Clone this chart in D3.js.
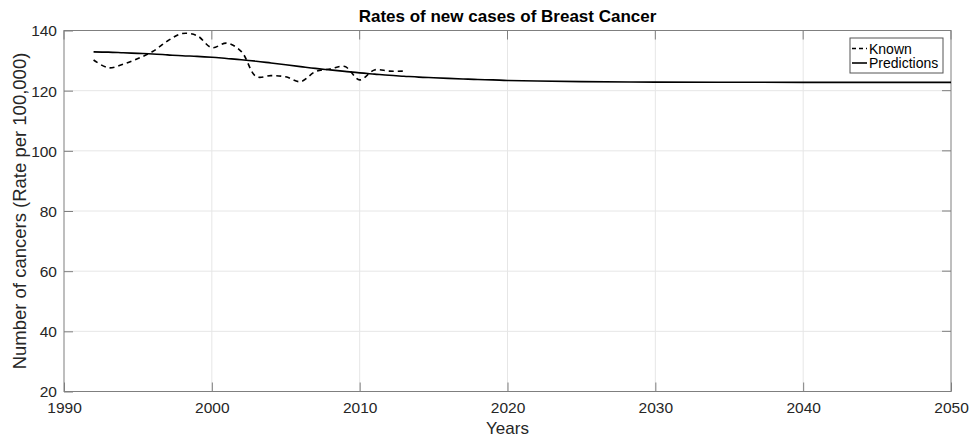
<!DOCTYPE html>
<html>
<head>
<meta charset="utf-8">
<script src="https://cdn.jsdelivr.net/npm/d3@7"></script>
<style>
  html, body { margin: 0; padding: 0; background: #fff; }
  svg { display: block; font-family: "Liberation Sans", Arial, Helvetica, sans-serif; }
</style>
</head>
<body>
<svg id="chart" width="971" height="439"></svg>
<script>
// Observed incidence (rate per 100,000)
const knownYears = [1992, 1993, 1994, 1995, 1996, 1997, 1998, 1999, 2000, 2001, 2002,
                    2003, 2004, 2005, 2006, 2007, 2008, 2009, 2010, 2011, 2012, 2013];
const knownRates = [130.2, 127.6, 128.8, 130.7, 133.0, 136.5, 139.0, 138.3, 134.3, 135.8, 133.0,
                    124.7, 125.0, 124.6, 123.0, 126.3, 127.2, 128.0, 123.6, 126.9, 126.5, 126.5];

// Model predictions
const predYears = [1992, 1993, 1994, 1995, 1996, 1997, 1998, 1999, 2000, 2001, 2002, 2003,
                   2004, 2005, 2006, 2007, 2008, 2009, 2010, 2011, 2012, 2013, 2014, 2015,
                   2016, 2017, 2018, 2019, 2020, 2022, 2025, 2030, 2035, 2040, 2045, 2050];
const predRates = [132.9, 132.8, 132.6, 132.4, 132.2, 131.9, 131.6, 131.4, 131.1, 130.7, 130.3, 129.8,
                   129.2, 128.6, 128.0, 127.4, 126.9, 126.4, 125.9, 125.5, 125.1, 124.8, 124.5, 124.3,
                   124.1, 123.9, 123.7, 123.6, 123.4, 123.2, 123.0, 122.85, 122.8, 122.75, 122.75, 122.75];

const xTicks = [1990, 2000, 2010, 2020, 2030, 2040, 2050];
const yTicks = [20, 40, 60, 80, 100, 120, 140];
const seriesNames = ["Known", "Predictions"];

const svg = d3.select("#chart");
const plotLeft = 64, plotRight = 951, plotTop = 30.5, plotBottom = 391.5;

const x = d3.scaleLinear().domain([1990, 2050]).range([plotLeft, plotRight]);
const y = d3.scaleLinear().domain([20, 140]).range([plotBottom, plotTop]);

const axisColor = "#7f7f7f";
const textColor = "#262626";
const tickLen = 9;

// Grid
const grid = svg.append("g");
grid.selectAll(".gx").data(xTicks.slice(1, -1)).enter().append("line")
  .attr("x1", d => x(d)).attr("x2", d => x(d))
  .attr("y1", plotTop).attr("y2", plotBottom)
  .attr("stroke", "#e6e6e6").attr("stroke-width", 1);
grid.selectAll(".gy").data(yTicks.slice(1, -1)).enter().append("line")
  .attr("x1", plotLeft).attr("x2", plotRight)
  .attr("y1", d => y(d)).attr("y2", d => y(d))
  .attr("stroke", "#e6e6e6").attr("stroke-width", 1);

// Axes (ticks point inward)
const xAxis = d3.axisBottom(x).tickValues(xTicks).tickFormat(d3.format("d"))
  .tickSizeInner(-tickLen).tickSizeOuter(0).tickPadding(12);
const yAxis = d3.axisLeft(y).tickValues(yTicks)
  .tickSizeInner(-tickLen).tickSizeOuter(0).tickPadding(7);

const gx = svg.append("g").attr("transform", `translate(0,${plotBottom})`).call(xAxis);
const gy = svg.append("g").attr("transform", `translate(${plotLeft},0)`).call(yAxis);
[gx, gy].forEach(g => {
  g.select(".domain").remove();
  g.selectAll(".tick line").attr("stroke", axisColor);
  g.selectAll(".tick text").attr("fill", textColor)
    .style("font-size", "15.5px").style("font-family", "Liberation Sans, Arial, sans-serif");
});
gy.selectAll(".tick text").attr("dy", "0.35em");
gx.selectAll(".tick text").attr("dy", "0.6em");

// Mirrored ticks on the right and top edges
svg.append("g").selectAll("line").data(yTicks).enter().append("line")
  .attr("x1", plotRight).attr("x2", plotRight - tickLen)
  .attr("y1", d => y(d)).attr("y2", d => y(d))
  .attr("stroke", axisColor);
svg.append("g").selectAll("line").data(xTicks).enter().append("line")
  .attr("x1", d => x(d)).attr("x2", d => x(d))
  .attr("y1", plotTop).attr("y2", plotTop + tickLen)
  .attr("stroke", axisColor);

// Box
svg.append("rect")
  .attr("x", plotLeft).attr("y", plotTop)
  .attr("width", plotRight - plotLeft).attr("height", plotBottom - plotTop)
  .attr("fill", "none").attr("stroke", axisColor).attr("stroke-width", 1);

// Series
const known = knownYears.map((yr, i) => [yr, knownRates[i]]);
const pred = predYears.map((yr, i) => [yr, predRates[i]]);

const line = d3.line().x(d => x(d[0])).y(d => y(d[1])).curve(d3.curveCatmullRom.alpha(0.5));

svg.append("path").datum(pred)
  .attr("d", line).attr("fill", "none")
  .attr("stroke", "#000").attr("stroke-width", 1.6);

svg.append("path").datum(known)
  .attr("d", line).attr("fill", "none")
  .attr("stroke", "#000").attr("stroke-width", 1.6)
  .attr("stroke-dasharray", "5,4");

// Title and labels
svg.append("text")
  .attr("x", (plotLeft + plotRight) / 2).attr("y", 22)
  .attr("text-anchor", "middle")
  .attr("fill", "#000")
  .style("font-size", "17px").style("font-weight", "bold")
  .text("Rates of new cases of Breast Cancer");

svg.append("text")
  .attr("x", (plotLeft + plotRight) / 2).attr("y", 434)
  .attr("text-anchor", "middle")
  .attr("fill", textColor)
  .style("font-size", "17px")
  .text("Years");

svg.append("text")
  .attr("transform", `translate(26,${(plotTop + plotBottom) / 2}) rotate(-90)`)
  .attr("text-anchor", "middle")
  .attr("fill", textColor)
  .style("font-size", "18.5px")
  .text("Number of cancers (Rate per 100,000)");

// Legend
const lg = svg.append("g");
lg.append("rect")
  .attr("x", 850).attr("y", 38).attr("width", 93).attr("height", 35)
  .attr("fill", "#fff").attr("stroke", "#555").attr("stroke-width", 1);
const styles = ["4,3", null];
seriesNames.forEach((name, i) => {
  const yy = 48.5 + i * 14.5;
  const l = lg.append("line")
    .attr("x1", 852).attr("x2", 867).attr("y1", yy).attr("y2", yy)
    .attr("stroke", "#000").attr("stroke-width", 1.6);
  if (styles[i]) l.attr("stroke-dasharray", styles[i]);
  lg.append("text")
    .attr("x", 869).attr("y", yy + 5)
    .attr("fill", "#000")
    .style("font-size", "14px")
    .text(name);
});
</script>
</body>
</html>
